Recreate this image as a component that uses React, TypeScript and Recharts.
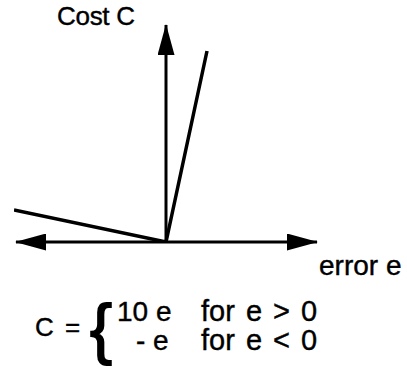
import { LineChart, Line, XAxis, YAxis, ReferenceLine } from "recharts";

// cost curve: error e vs cost C
const errorValues = [-15.2, 0, 4.1];
const costValues = [3.2, 0, 19.1];

// axis arrow extents
const xAxisLeft = -15.0;
const xAxisRight = 15.1;
const yAxisTop = 21.7;

const data = errorValues.map((e, i) => ({ e, C: costValues[i] }));

const font = "'Liberation Sans', Arial, Helvetica, sans-serif";

export default function App() {
  return (
    <div style={{ position: "absolute", left: 0, top: 0, width: 407, height: 370, background: "#fff" }}>
      <svg width={0} height={0} style={{ position: "absolute" }}>
        <defs>
          <marker
            id="arrowHead"
            viewBox="0 0 31 17"
            markerWidth={31}
            markerHeight={17}
            refX={30}
            refY={8.5}
            orient="auto"
            markerUnits="userSpaceOnUse"
          >
            <path d="M0,0 L31,8.5 L0,17 Z" fill="#000" />
          </marker>
        </defs>
      </svg>
      <LineChart
        width={407}
        height={370}
        data={data}
        margin={{ top: 24, left: 14, right: 90, bottom: 128 }}
      >
        <XAxis dataKey="e" type="number" domain={[-15.2, 15.1]} hide allowDataOverflow />
        <YAxis type="number" domain={[0, 21.8]} hide allowDataOverflow />
        <ReferenceLine
          segment={[{ x: 0, y: 0 }, { x: xAxisLeft, y: 0 }]}
          stroke="#000"
          strokeWidth={3}
          markerEnd="url(#arrowHead)"
          ifOverflow="visible"
        />
        <ReferenceLine
          segment={[{ x: 0, y: 0 }, { x: xAxisRight, y: 0 }]}
          stroke="#000"
          strokeWidth={3}
          markerEnd="url(#arrowHead)"
          ifOverflow="visible"
        />
        <ReferenceLine
          segment={[{ x: 0, y: 0 }, { x: 0, y: yAxisTop }]}
          stroke="#000"
          strokeWidth={3}
          markerEnd="url(#arrowHead)"
          ifOverflow="visible"
        />
        <Line
          type="linear"
          dataKey="C"
          stroke="#000"
          strokeWidth={3.5}
          dot={false}
          isAnimationActive={false}
        />
      </LineChart>
      <svg
        width={407}
        height={370}
        style={{ position: "absolute", left: 0, top: 0, pointerEvents: "none" }}
        fontFamily={font}
        fill="#000"
        stroke="#000"
        strokeWidth={0.4}
      >
        <text x={57} y={25} fontSize={26} letterSpacing={-0.3}>Cost C</text>
        <text x={319} y={275} fontSize={28}>error e</text>
        <text x={35} y={336} fontSize={26}>C</text>
        <text x={65} y={336} fontSize={26}>=</text>
        <text x={90} y={351} fontSize={66} strokeWidth={1.8}>{"{"}</text>
        <text x={117} y={321} fontSize={28}>10 e</text>
        <text x={201} y={321} fontSize={29} wordSpacing={3}>for e &gt; 0</text>
        <text x={136} y={350} fontSize={28}>- e</text>
        <text x={201} y={350} fontSize={29} wordSpacing={3}>for e &lt; 0</text>
      </svg>
    </div>
  );
}
